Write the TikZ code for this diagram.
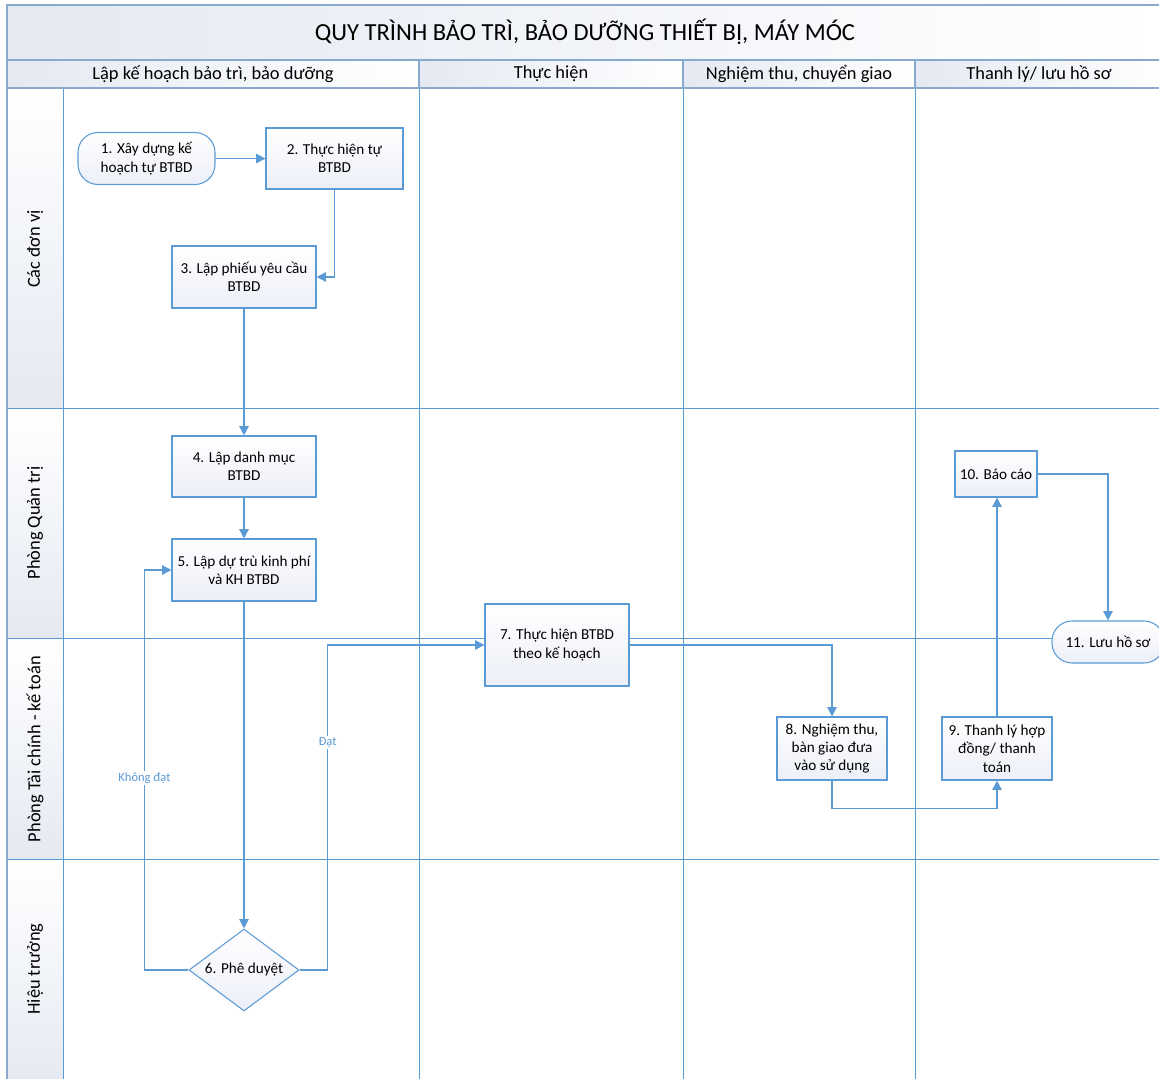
\documentclass[tikz,border=0pt]{standalone}
\usepackage{fontspec}
\setmainfont{Carlito}
\usetikzlibrary{shapes.geometric,arrows.meta}
\definecolor{ln}{HTML}{5B9BD5}
\definecolor{hd}{HTML}{8AA9CE}
\definecolor{hf}{HTML}{E4E9F2}
\definecolor{bf}{HTML}{ECEFF8}
\tikzset{
  boxbase/.style={draw=ln, line width=0.8pt, top color=white, bottom color=bf,
    align=center, font=\fontsize{11.4}{13.8}\selectfont, inner sep=1pt},
  procbox/.style={boxbase, rectangle},
  termbox/.style={boxbase, rectangle, rounded corners=15pt},
  decbox/.style={boxbase, diamond, inner sep=0pt},
  arr/.style={draw=ln, line width=1.1pt, -{Triangle[length=7pt,width=7pt]}},
  lab/.style={font=\fontsize{9.4}{11}\selectfont, text=ln, fill=white, inner sep=1pt},
  hdline/.style={draw=hd, line width=1.1pt},
  laneline/.style={draw=ln, line width=0.75pt},
  colhead/.style={font=\fontsize{13.8}{16}\selectfont, text=black},
  rowhead/.style={font=\fontsize{13.8}{16}\selectfont, text=black, rotate=90}
}
\begin{document}
\begin{tikzpicture}[x=0.75pt,y=-0.75pt]
\useasboundingbox (0,0) rectangle (1159,1078);
\clip (0,0) rectangle (1159,1078);
% header backgrounds
\shade[left color=hf, right color=white] (7,5) rectangle (1170,60);
\shade[left color=hf, right color=white] (7,60) rectangle (419,88);
\shade[left color=hf, right color=white] (419,60) rectangle (683,88);
\shade[left color=hf, right color=white] (683,60) rectangle (915,88);
\shade[left color=hf, right color=white] (915,60) rectangle (1170,88);
\shade[top color=white, bottom color=hf] (7,88) rectangle (63,408);
\shade[top color=white, bottom color=hf] (7,408) rectangle (63,638);
\shade[top color=white, bottom color=hf] (7,638) rectangle (63,859);
\shade[top color=white, bottom color=hf] (7,859) rectangle (63,1090);
% lane lines
\draw[laneline] (63,88) -- (63,1090);
\draw[laneline] (419,88) -- (419,1090);
\draw[laneline] (683,88) -- (683,1090);
\draw[laneline] (915,88) -- (915,1090);
\draw[laneline] (7,408) -- (1170,408);
\draw[laneline] (7,638) -- (1170,638);
\draw[laneline] (7,859) -- (1170,859);
% header lines
\draw[hdline] (7,1090) -- (7,5) -- (1170,5);
\draw[hdline] (7,60) -- (1170,60);
\draw[hdline] (7,88) -- (1170,88);
\draw[hdline] (419,60) -- (419,88);
\draw[hdline] (683,60) -- (683,88);
\draw[hdline] (915,60) -- (915,88);
% header texts
\node[font=\fontsize{18.4}{21}\selectfont] (title) at (585,32) {QUY TRÌNH BẢO TRÌ, BẢO DƯỠNG THIẾT BỊ, MÁY MÓC};
\node[colhead] (c1) at (213,74) {Lập kế hoạch bảo trì, bảo dưỡng};
\node[colhead] (c2) at (551,74) {Thực hiện};
\node[colhead] (c3) at (799,74) {Nghiệm thu, chuyển giao};
\node[colhead] (c4) at (1039,74) {Thanh lý/ lưu hồ sơ};
\node[rowhead] (r1) at (35,249) {Các đơn vị};
\node[rowhead] (r2) at (35,523) {Phòng Quản trị};
\node[rowhead] (r3) at (35,749) {Phòng Tài chính - kế toán};
\node[rowhead] (r4) at (35,969) {Hiệu trưởng};
% nodes
\node[termbox, minimum width=102.75pt, minimum height=39pt] (n1) at (146.5,158.5) {1. Xây dựng kế\\hoạch tự BTBD};
\node[procbox, minimum width=102.75pt, minimum height=45.75pt] (n2) at (334.5,158.5) {2. Thực hiện tự\\BTBD};
\node[procbox, minimum width=108pt, minimum height=46.5pt] (n3) at (244,277) {3. Lập phiếu yêu cầu\\BTBD};
\node[procbox, minimum width=108pt, minimum height=45.75pt] (n4) at (244,466.5) {4. Lập danh mục\\BTBD};
\node[procbox, minimum width=108pt, minimum height=46.5pt] (n5) at (244,570) {5. Lập dự trù kinh phí\\và KH BTBD};
\node[decbox, minimum width=82.5pt, minimum height=61.5pt,
  label={[font=\fontsize{11.4}{13.8}\selectfont]center:6. Phê duyệt}] (n6) at (244,970) {};
\node[procbox, minimum width=108pt, minimum height=61.5pt] (n7) at (557,645) {7. Thực hiện BTBD\\theo kế hoạch};
\node[procbox, minimum width=82.5pt, minimum height=47.25pt] (n8) at (832,748.5) {8. Nghiệm thu,\\bàn giao đưa\\vào sử dụng};
\node[procbox, minimum width=82.5pt, minimum height=47.25pt] (n9) at (997,748.5) {9. Thanh lý hợp\\đồng/ thanh\\toán};
\node[procbox, minimum width=61.5pt, minimum height=34.5pt] (n10) at (996,474) {10. Báo cáo};
\node[termbox, minimum width=84pt, minimum height=31.5pt] (n11) at (1108,642) {11. Lưu hồ sơ};
% connectors
\draw[arr] (n1) -- (n2);
\draw[arr] (n2.south) |- (n3.east);
\draw[arr] (n3) -- (n4);
\draw[arr] (n4) -- (n5);
\draw[arr] (n5) -- (n6);
\draw[arr] (n6.west) -- ++(-44,0) |- node[lab, pos=0.24] {Không đạt} (n5.west);
\draw[arr] (n6.east) -- ++(28,0) |- node[lab, pos=0.35] {Đạt} (n7.west);
\draw[arr] (n7.east) -| (n8.north);
\draw[arr] (n8.south) -- ++(0,28) -| (n9.south);
\draw[arr] (n9.north) -- (n9.north |- n10.south);
\draw[arr] (n10.east) -| (n11.north);
\end{tikzpicture}
\end{document}
